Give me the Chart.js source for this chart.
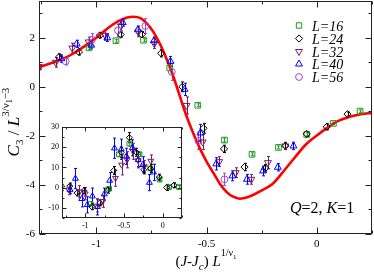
<!DOCTYPE html>
<html>
<head>
<meta charset="utf-8">
<script src="https://cdn.jsdelivr.net/npm/chart.js@4.4.0/dist/chart.umd.min.js"></script>
<style>
html, body { margin: 0; padding: 0; background: #fff; }
#wrap { position: relative; width: 374px; height: 272px; }
#main { position: absolute; left: 0; top: 0; }
#inset { position: absolute; left: 44px; top: 121px; }
</style>
</head>
<body>
<div id="wrap">
  <canvas id="main" width="374" height="272"></canvas>
  <canvas id="inset" width="142" height="110"></canvas>
</div>
<script>
// ---- main plot data: x, y, error per lattice size ----
var sizes = ['L=16', 'L=24', 'L=32', 'L=40', 'L=56'];

var x16 = [-1.033, -0.911, -0.786, -0.667, -0.54, -0.419, -0.294, -0.174, -0.046, 0.075, 0.196];
var y16 = [1.59, 1.88, 1.9, 0.77, -0.75, -2.17, -2.75, -2.47, -1.94, -1.49, -0.99];
var e16 = [0.06, 0.06, 0.06, 0.08, 0.06, 0.08, 0.06, 0.06, 0.06, 0.05, 0.05];

var x24 = [-1.169, -1.079, -0.984, -0.89, -0.794, -0.706, -0.61, -0.514, -0.421, -0.328, -0.234, -0.143, -0.046, 0.045, 0.139];
var y24 = [1.22, 1.42, 2.1, 2.13, 2.14, 1.37, 0.0, -1.69, -2.53, -3.27, -3.32, -2.41, -1.92, -1.63, -1.11];
var e24 = [0.12, 0.12, 0.1, 0.1, 0.12, 0.15, 0.2, 0.2, 0.15, 0.15, 0.15, 0.12, 0.1, 0.12, 0.08];

var x32 = [-1.257, -1.184, -1.109, -1.035, -0.96, -0.888, -0.81, -0.737, -0.591, -0.518, -0.443, -0.368, -0.297, -0.222, -0.143];
var y32 = [0.81, 1.0, 1.58, 1.83, 2.1, 2.48, 2.24, 1.76, -0.76, -2.25, -3.05, -3.5, -3.77, -3.09, -2.41];
var e32 = [0.1, 0.2, 0.2, 0.2, 0.2, 0.2, 0.2, 0.2, 0.35, 0.3, 0.2, 0.2, 0.2, 0.25, 0.15];

var x40 = [-1.158, -1.089, -1.023, -0.95, -0.88, -0.812, -0.739, -0.664, -0.6, -0.528, -0.456, -0.383, -0.317, -0.244, -0.177, -0.106];
var y40 = [1.15, 1.75, 1.7, 2.0, 2.62, 2.33, 1.88, 1.04, -0.1, -1.88, -3.14, -3.63, -3.77, -3.43, -3.28, -2.41];
var e40 = [0.15, 0.15, 0.15, 0.15, 0.15, 0.15, 0.15, 0.2, 0.25, 0.35, 0.25, 0.2, 0.2, 0.2, 0.15, 0.15];

var x56 = [-1.139, -1.02, -0.902, -0.778, -0.658, -0.537, -0.419];
var y56 = [1.04, 1.92, 2.3, 2.48, 0.61, -2.2, -3.77];
var e56 = [0.15, 0.25, 0.25, 0.3, 0.35, 0.35, 0.25];

// scaling function (red curve)
var curveX = [-1.26, -1.2, -1.15, -1.1, -1.05, -1.0, -0.95, -0.9, -0.86, -0.83, -0.8, -0.77, -0.74, -0.71, -0.68, -0.65, -0.62, -0.59, -0.56, -0.53, -0.5, -0.47, -0.44, -0.41, -0.38, -0.35, -0.3, -0.25, -0.2, -0.15, -0.1, -0.05, 0.0, 0.05, 0.1, 0.15, 0.2, 0.25];
var curveY = [0.8, 0.98, 1.15, 1.38, 1.68, 2.0, 2.38, 2.68, 2.83, 2.86, 2.8, 2.58, 2.22, 1.72, 1.1, 0.4, -0.42, -1.22, -1.9, -2.52, -3.05, -3.5, -3.95, -4.28, -4.48, -4.56, -4.45, -4.22, -3.95, -3.43, -2.88, -2.35, -1.98, -1.65, -1.38, -1.22, -1.12, -1.06];

// ---- inset data ----
var ix16 = [-0.929, -0.69, -0.566, -0.43, -0.298, -0.16, -0.04, 0.085, 0.21];
var iy16 = [-8.0, -0.5, 16.5, 21.8, 16.5, 9.5, 4.0, 0.3, 0.3];
var ie16 = [1, 1, 1.2, 1.2, 1, 1, 1, 0.8, 0.8];

var ix24 = [-1.2, -1.105, -1.017, -0.916, -0.81, -0.71, -0.632, -0.534, -0.43, -0.34, -0.245, -0.155, -0.043, 0.05, 0.145];
var iy24 = [0.8, -2.6, -1.5, -9.4, -7.5, -1.2, 8.5, 17.5, 24.7, 17.5, 8.8, 9.5, 5.2, 0.1, 1.2];
var ie24 = [1.5, 1.5, 1.5, 1.5, 1.5, 1.5, 2, 2.5, 2.5, 2, 2, 2, 1.5, 1.5, 1.2];

var ix32 = [-1.303, -1.214, -1.074, -1.0, -0.85, -0.776, -0.609, -0.53, -0.46, -0.382, -0.316, -0.237, -0.153];
var iy32 = [0, -1.0, -2.0, -3.0, -9.0, -6.7, 4.7, 11.3, 13.8, 18, 13.5, 10.5, 13.2];
var ie32 = [1.5, 2.5, 3, 3, 3, 3, 4, 5, 4, 4, 3, 3, 3];

var ix40 = [-1.195, -1.127, -1.045, -0.974, -0.908, -0.842, -0.754, -0.684, -0.622, -0.534, -0.468, -0.39, -0.316, -0.258, -0.171, -0.118];
var iy40 = [-1, 4.5, -5.5, -8.5, -4.2, -9.5, -3.2, 3.5, 19.5, 19, 15.5, 19.7, 13.8, 11.3, 2.5, 7.6];
var ie40 = [2, 5, 4, 4, 4, 4, 3, 4, 5, 5, 4, 4, 4, 4, 4, 4];

var serif = "'Liberation Serif', 'DejaVu Serif', serif";
var colors = ['#1f9a1f', '#000000', '#7a1f5c', '#0000ff', '#9a4ad6'];
var styles = ['rect', 'rectRot', 'triangle', 'triangle', 'circle'];
var rotations = [0, 0, 180, 0, 0];

function pts(xs, ys) {
  return xs.map(function (x, i) { return { x: x, y: ys[i] }; });
}

function isMult(v, step) {
  var r = v / step;
  return Math.abs(r - Math.round(r)) < 1e-6;
}

function labelEvery(step) {
  return function (v) {
    if (!isMult(v, step)) return '';
    return String(Math.round(v * 100) / 100);
  };
}

// fixed axis size, no extra label padding around the plot area
function fixSize(w, h) {
  return function (s) {
    if (w !== null) s.width = w;
    if (h !== null) s.height = h;
    s.paddingTop = 0; s.paddingBottom = 0; s.paddingLeft = 0; s.paddingRight = 0;
  };
}

function series(xs, ys, es, k, radius) {
  return {
    label: sizes[k],
    data: pts(xs, ys),
    errs: es,
    showLine: false,
    pointStyle: styles[k],
    rotation: rotations[k],
    pointRadius: radius[k],
    pointBorderWidth: 1,
    borderColor: colors[k],
    backgroundColor: 'rgba(0,0,0,0)'
  };
}

var errorBars = {
  id: 'errorBars',
  beforeDatasetsDraw: function (chart) {
    var ctx = chart.ctx, ys = chart.scales.y, a = chart.chartArea;
    ctx.save();
    ctx.beginPath();
    ctx.rect(a.left, a.top, a.right - a.left, a.bottom - a.top);
    ctx.clip();
    chart.data.datasets.forEach(function (ds, i) {
      if (!ds.errs) return;
      var meta = chart.getDatasetMeta(i);
      ctx.strokeStyle = ds.borderColor;
      ctx.lineWidth = 1;
      meta.data.forEach(function (pt, j) {
        var v = ds.data[j].y, e = ds.errs[j];
        var t = ys.getPixelForValue(v + e), b = ys.getPixelForValue(v - e);
        var x = Math.round(pt.x) + 0.5;
        ctx.beginPath();
        ctx.moveTo(x, t); ctx.lineTo(x, b);
        ctx.moveTo(x - 1.5, t); ctx.lineTo(x + 1.5, t);
        ctx.moveTo(x - 1.5, b); ctx.lineTo(x + 1.5, b);
        ctx.stroke();
      });
    });
    ctx.restore();
  }
};

function framePlugin(xMajor, yMajor, majLen, minLen, fill) {
  return {
    id: 'frame',
    beforeDraw: function (chart) {
      if (!fill) return;
      var a = chart.chartArea, ctx = chart.ctx;
      ctx.save();
      ctx.fillStyle = '#fff';
      ctx.fillRect(a.left, a.top, a.right - a.left, a.bottom - a.top);
      ctx.restore();
    },
    afterDraw: function (chart) {
      var ctx = chart.ctx, a = chart.chartArea, xs = chart.scales.x, ys = chart.scales.y;
      var l = Math.round(a.left) + 0.5, r = Math.round(a.right) - 0.5;
      var t = Math.round(a.top) + 0.5, b = Math.round(a.bottom) - 0.5;
      ctx.save();
      ctx.strokeStyle = '#222';
      ctx.lineWidth = 1;
      ctx.strokeRect(l, t, r - l, b - t);
      ctx.beginPath();
      xs.ticks.forEach(function (tk) {
        var p = Math.round(xs.getPixelForValue(tk.value)) + 0.5;
        var len = isMult(tk.value, xMajor) ? majLen : minLen;
        ctx.moveTo(p, b); ctx.lineTo(p, b - len);
        ctx.moveTo(p, t); ctx.lineTo(p, t + len);
      });
      ys.ticks.forEach(function (tk) {
        var p = Math.round(ys.getPixelForValue(tk.value)) + 0.5;
        var len = isMult(tk.value, yMajor) ? majLen : minLen;
        ctx.moveTo(l, p); ctx.lineTo(l + len, p);
        ctx.moveTo(r, p); ctx.lineTo(r - len, p);
      });
      ctx.stroke();
      ctx.restore();
    }
  };
}

function fontOf(s) {
  return (s[1] ? 'italic ' : '') + s[2] + 'px ' + serif;
}

function drawRich(ctx, segs, x, y, align) {
  var w = 0;
  segs.forEach(function (s) { ctx.font = fontOf(s); w += ctx.measureText(s[0]).width; });
  var cx = align === 'center' ? x - w / 2 : x;
  ctx.textAlign = 'left';
  ctx.textBaseline = 'alphabetic';
  segs.forEach(function (s) {
    ctx.font = fontOf(s);
    ctx.fillText(s[0], cx, y + (s[3] || 0));
    cx += ctx.measureText(s[0]).width;
  });
}

var labels = {
  id: 'labels',
  afterDraw: function (chart) {
    var ctx = chart.ctx;
    ctx.save();
    ctx.fillStyle = '#000';

    // x title
    drawRich(ctx, [
      ['(', false, 15], ['J', true, 15], ['-', false, 15], ['J', true, 15], ['c', true, 11, 4],
      [') ', false, 15], ['L', true, 15], ['1/\u03bd', false, 10, -10], ['1', false, 7, -7]
    ], 206, 266, 'center');

    // y title
    ctx.save();
    ctx.translate(19, 122);
    ctx.rotate(-Math.PI / 2);
    drawRich(ctx, [
      ['C', true, 17], ['3', false, 11, 4], [' / ', false, 17], ['L', true, 17],
      ['3/\u03bd', false, 11, -10], ['1', false, 8, -7], ['\u22123', false, 11, -10]
    ], 0, 0, 'center');
    ctx.restore();

    // parameters
    drawRich(ctx, [['Q', true, 16], ['=2, ', false, 16], ['K', true, 16], ['=1', false, 16]], 290, 213, 'left');

    // legend
    var rowY = [25.5, 38.5, 51.5, 64, 77];
    var legR = [3.8, 3.6, 4, 4, 3.4];
    sizes.forEach(function (name, k) {
      ctx.save();
      ctx.strokeStyle = colors[k];
      ctx.fillStyle = 'rgba(0,0,0,0)';
      ctx.lineWidth = 1;
      Chart.helpers.drawPoint(ctx, { pointStyle: styles[k], radius: legR[k], rotation: rotations[k], borderWidth: 1 }, 299, rowY[k]);
      ctx.restore();
      ctx.fillStyle = '#000';
      drawRich(ctx, [[name, true, 14]], 312, rowY[k] + 5, 'left');
    });
    ctx.restore();
  }
};

var mainRadius = [4, 3.6, 4, 4, 3.4];
var curve = {
  label: 'fit',
  data: pts(curveX, curveY),
  showLine: true,
  pointRadius: 0,
  borderColor: '#ff0000',
  borderWidth: 2.6,
  cubicInterpolationMode: 'monotone',
  fill: false
};

new Chart(document.getElementById('main'), {
  type: 'scatter',
  data: {
    datasets: [
      series(x56, y56, e56, 4, mainRadius),
      series(x40, y40, e40, 3, mainRadius),
      series(x32, y32, e32, 2, mainRadius),
      series(x24, y24, e24, 1, mainRadius),
      series(x16, y16, e16, 0, mainRadius),
      curve
    ]
  },
  options: {
    responsive: false,
    animation: false,
    layout: { autoPadding: false, padding: { left: 0, top: 1, right: 2, bottom: 0 } },
    plugins: { legend: { display: false }, tooltip: { enabled: false } },
    scales: {
      x: {
        type: 'linear', min: -1.26, max: 0.25,
        grid: { display: false, drawTicks: false }, border: { display: false },
        ticks: { stepSize: 0.25, includeBounds: false, autoSkip: false, maxRotation: 0, padding: 4,
                 color: '#000', font: { family: serif, size: 11 }, callback: labelEvery(0.5) },
        afterFit: fixSize(null, 38)
      },
      y: {
        type: 'linear', min: -6, max: 3.5,
        grid: { display: false, drawTicks: false }, border: { display: false },
        ticks: { stepSize: 1, includeBounds: false, autoSkip: false, padding: 4,
                 color: '#000', font: { family: serif, size: 11 }, callback: labelEvery(2) },
        afterFit: fixSize(39, null)
      }
    }
  },
  plugins: [errorBars, framePlugin(0.5, 2, 6, 3, false), labels]
});

var insetRadius = [3.3, 3, 3.4, 3.4, 3];
new Chart(document.getElementById('inset'), {
  type: 'scatter',
  data: {
    datasets: [
      series(ix40, iy40, ie40, 3, insetRadius),
      series(ix32, iy32, ie32, 2, insetRadius),
      series(ix24, iy24, ie24, 1, insetRadius),
      series(ix16, iy16, ie16, 0, insetRadius)
    ]
  },
  options: {
    responsive: false,
    animation: false,
    layout: { autoPadding: false, padding: { left: 0, top: 6, right: 4, bottom: 0 } },
    plugins: { legend: { display: false }, tooltip: { enabled: false } },
    scales: {
      x: {
        type: 'linear', min: -1.3, max: 0.25,
        grid: { display: false, drawTicks: false }, border: { display: false },
        ticks: { stepSize: 0.25, includeBounds: false, autoSkip: false, maxRotation: 0, padding: 3,
                 color: '#000', font: { family: serif, size: 8 }, callback: labelEvery(0.5) },
        afterFit: fixSize(null, 13)
      },
      y: {
        type: 'linear', min: -15, max: 30,
        grid: { display: false, drawTicks: false }, border: { display: false },
        ticks: { stepSize: 5, includeBounds: false, autoSkip: false, padding: 3,
                 color: '#000', font: { family: serif, size: 8 }, callback: labelEvery(10) },
        afterFit: fixSize(18, null)
      }
    }
  },
  plugins: [errorBars, framePlugin(0.5, 10, 4, 2, true)]
});
</script>
</body>
</html>
